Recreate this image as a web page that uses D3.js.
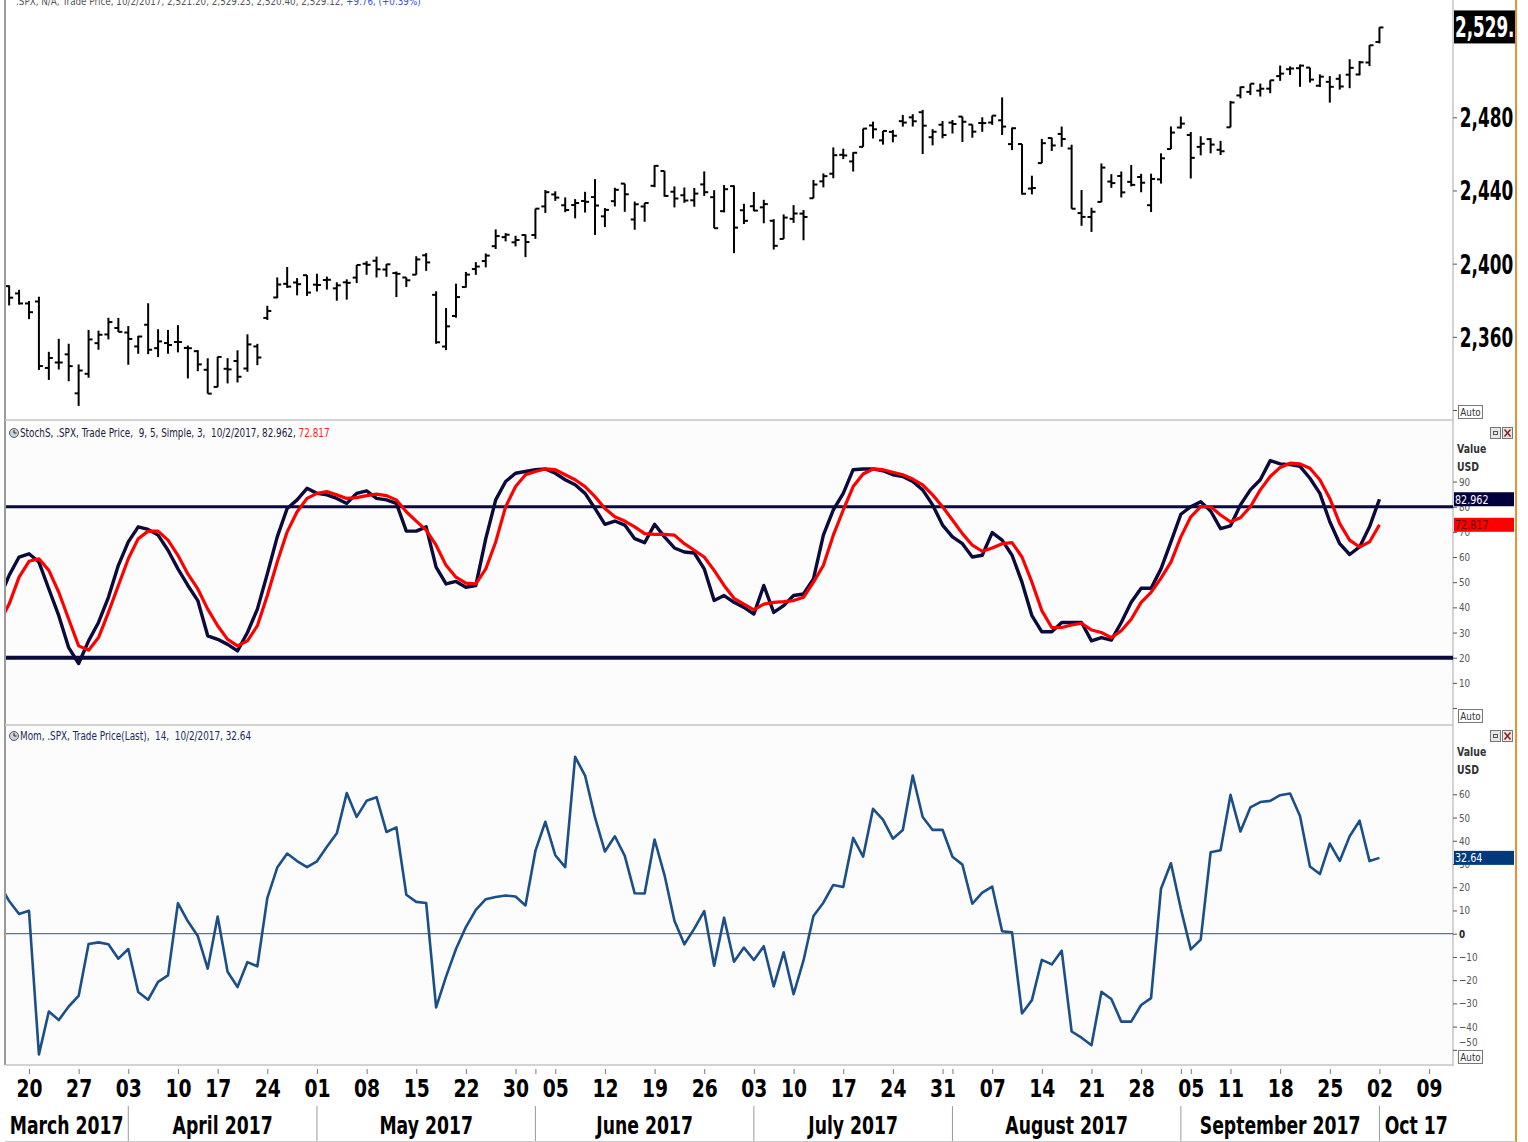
<!DOCTYPE html>
<html>
<head>
<meta charset="utf-8">
<script src="https://cdn.jsdelivr.net/npm/d3@7"></script>
<style>
  body { margin: 0; background: #fff; }
  svg { display: block; }
  text { font-family: "DejaVu Sans", sans-serif; white-space: pre; }
</style>
</head>
<body>
<div class="chart"></div>
<script>
// Trading days (2017), the last five are empty slots to the right of the data
const days = ("03-15 03-16 03-17 03-20 03-21 03-22 03-23 03-24 03-27 03-28 03-29 03-30 03-31 " +
  "04-03 04-04 04-05 04-06 04-07 04-10 04-11 04-12 04-13 04-17 04-18 04-19 04-20 04-21 04-24 04-25 04-26 04-27 04-28 " +
  "05-01 05-02 05-03 05-04 05-05 05-08 05-09 05-10 05-11 05-12 05-15 05-16 05-17 05-18 05-19 05-22 05-23 05-24 05-25 05-26 05-30 05-31 " +
  "06-01 06-02 06-05 06-06 06-07 06-08 06-09 06-12 06-13 06-14 06-15 06-16 06-19 06-20 06-21 06-22 06-23 06-26 06-27 06-28 06-29 06-30 " +
  "07-03 07-05 07-06 07-07 07-10 07-11 07-12 07-13 07-14 07-17 07-18 07-19 07-20 07-21 07-24 07-25 07-26 07-27 07-28 07-31 " +
  "08-01 08-02 08-03 08-04 08-07 08-08 08-09 08-10 08-11 08-14 08-15 08-16 08-17 08-18 08-21 08-22 08-23 08-24 08-25 08-28 08-29 08-30 08-31 " +
  "09-01 09-05 09-06 09-07 09-08 09-11 09-12 09-13 09-14 09-15 09-18 09-19 09-20 09-21 09-22 09-25 09-26 09-27 09-28 09-29 " +
  "10-02 10-03 10-04 10-05 10-06 10-09").split(" ");

// .SPX daily prices
const open = [2370.34, 2387.71, 2383.71, 2378.24, 2379.32, 2343.00, 2345.97, 2350.42, 2329.11, 2339.79, 2356.54, 2361.31, 2364.82,
  2362.34, 2354.76, 2366.59, 2353.79, 2356.59, 2357.16, 2353.92, 2352.15, 2341.98, 2332.62, 2342.53, 2346.79, 2342.69, 2354.74, 2370.33, 2381.51, 2388.98, 2389.70, 2393.68,
  2388.50, 2391.05, 2386.50, 2389.79, 2392.37, 2399.94, 2401.58, 2396.79, 2394.84, 2392.44, 2393.98, 2404.55, 2382.95, 2354.69, 2371.37, 2387.21, 2397.04, 2401.41, 2409.54, 2414.50, 2411.67, 2415.63,
  2415.65, 2431.28, 2437.83, 2431.92, 2432.03, 2434.27, 2436.39, 2425.88, 2434.15, 2443.75, 2424.14, 2431.24, 2442.55, 2450.66, 2439.31, 2437.40, 2434.65, 2443.32, 2436.34, 2428.70, 2442.38, 2429.20,
  2431.39, 2430.78, 2423.44, 2413.52, 2424.51, 2427.35, 2435.75, 2444.99, 2449.16, 2459.50, 2455.88, 2463.85, 2475.56, 2467.40, 2472.04, 2477.88, 2479.97, 2482.76, 2469.12, 2475.94,
  2477.10, 2480.38, 2476.03, 2476.88, 2477.14, 2478.35, 2465.35, 2465.38, 2441.04, 2454.96, 2468.66, 2470.91, 2462.95, 2427.64, 2425.50, 2433.75, 2444.88, 2447.91, 2444.72, 2447.35, 2431.94, 2446.06, 2462.65,
  2474.42, 2470.35, 2463.83, 2468.06, 2462.25, 2474.52, 2491.94, 2493.89, 2494.56, 2495.67, 2502.51, 2506.29, 2506.84, 2507.16, 2497.26, 2499.39, 2501.04, 2503.30, 2503.41, 2509.96,
  2521.20];
const high = [2390.01, 2388.10, 2385.71, 2379.55, 2381.93, 2351.81, 2358.92, 2356.22, 2344.90, 2363.78, 2363.36, 2370.42, 2370.35,
  2365.87, 2360.53, 2378.36, 2364.16, 2363.76, 2366.37, 2355.22, 2352.72, 2348.26, 2349.14, 2348.35, 2352.63, 2361.37, 2356.18, 2376.98, 2392.48, 2398.16, 2392.10, 2393.68,
  2394.49, 2392.93, 2389.82, 2391.43, 2399.29, 2401.36, 2403.87, 2399.74, 2395.72, 2392.44, 2404.05, 2405.77, 2384.87, 2375.74, 2389.06, 2395.46, 2400.85, 2405.58, 2418.71, 2416.68, 2415.26, 2415.99,
  2430.06, 2440.23, 2439.55, 2436.21, 2435.28, 2439.27, 2446.20, 2430.38, 2441.49, 2443.75, 2433.95, 2433.15, 2453.82, 2450.66, 2442.23, 2441.62, 2441.40, 2450.42, 2440.15, 2442.97, 2442.73, 2432.71,
  2439.17, 2434.90, 2424.28, 2426.92, 2432.00, 2429.30, 2445.76, 2449.32, 2463.54, 2462.82, 2460.92, 2473.83, 2477.62, 2472.54, 2473.10, 2481.24, 2481.69, 2484.04, 2473.53, 2477.96,
  2478.51, 2480.38, 2476.03, 2480.00, 2480.95, 2490.87, 2474.41, 2465.38, 2448.09, 2468.22, 2468.90, 2474.93, 2465.02, 2440.27, 2430.58, 2454.77, 2448.91, 2450.39, 2453.96, 2449.12, 2449.19, 2460.31, 2475.01,
  2480.38, 2471.97, 2469.64, 2468.62, 2467.11, 2488.95, 2496.77, 2498.37, 2498.43, 2500.23, 2508.32, 2507.84, 2508.85, 2507.16, 2503.47, 2502.54, 2503.51, 2511.75, 2510.81, 2519.44,
  2529.23];
const low = [2368.94, 2377.18, 2377.64, 2369.66, 2341.90, 2336.45, 2342.13, 2335.74, 2322.25, 2337.63, 2352.94, 2358.58, 2362.60,
  2344.73, 2350.72, 2350.52, 2348.90, 2350.74, 2351.50, 2337.25, 2341.18, 2328.95, 2332.51, 2334.54, 2335.05, 2340.91, 2344.51, 2369.19, 2381.15, 2386.78, 2382.68, 2382.36,
  2384.83, 2385.82, 2379.75, 2380.35, 2389.38, 2393.92, 2392.44, 2392.79, 2381.74, 2387.19, 2393.94, 2396.05, 2356.21, 2352.72, 2370.43, 2386.92, 2393.88, 2397.99, 2408.01, 2412.20, 2409.43, 2403.59,
  2413.54, 2427.71, 2434.32, 2428.12, 2424.75, 2427.94, 2415.70, 2419.97, 2431.28, 2428.34, 2418.53, 2422.88, 2441.79, 2436.60, 2430.74, 2433.27, 2431.11, 2437.03, 2419.38, 2428.02, 2405.70, 2421.65,
  2428.69, 2422.05, 2407.70, 2413.52, 2422.27, 2412.79, 2435.75, 2441.69, 2446.69, 2457.16, 2450.34, 2463.85, 2468.43, 2465.06, 2466.32, 2474.91, 2474.94, 2459.93, 2464.66, 2468.53,
  2471.14, 2466.48, 2468.85, 2472.08, 2475.88, 2470.32, 2462.08, 2437.75, 2437.85, 2454.96, 2461.61, 2463.86, 2430.01, 2420.69, 2417.35, 2433.67, 2441.42, 2436.19, 2442.22, 2439.03, 2428.20, 2443.77, 2462.65,
  2473.85, 2446.55, 2459.20, 2460.29, 2459.40, 2474.52, 2490.37, 2492.14, 2491.35, 2493.16, 2499.92, 2503.19, 2496.67, 2499.00, 2496.54, 2488.03, 2495.12, 2495.91, 2502.93, 2507.99,
  2520.40];
const close = [2385.26, 2381.38, 2378.25, 2373.47, 2344.02, 2348.45, 2345.96, 2343.98, 2341.59, 2358.57, 2361.13, 2368.06, 2362.72,
  2358.84, 2360.16, 2352.95, 2357.49, 2355.54, 2357.16, 2353.78, 2344.93, 2328.95, 2349.01, 2342.19, 2338.17, 2355.84, 2348.69, 2374.15, 2388.61, 2387.45, 2388.77, 2384.20,
  2388.33, 2391.17, 2388.13, 2389.52, 2399.29, 2399.38, 2396.92, 2399.63, 2394.44, 2390.90, 2402.32, 2400.67, 2357.03, 2365.72, 2381.73, 2394.02, 2398.42, 2404.39, 2415.07, 2415.82, 2412.91, 2411.80,
  2430.06, 2439.07, 2436.10, 2429.33, 2433.14, 2433.79, 2431.77, 2429.39, 2440.35, 2437.92, 2432.46, 2433.15, 2453.46, 2437.03, 2435.61, 2434.50, 2438.30, 2439.07, 2419.38, 2440.69, 2419.70, 2423.41,
  2429.01, 2432.54, 2409.75, 2425.18, 2427.43, 2425.53, 2443.25, 2447.83, 2459.27, 2459.14, 2460.61, 2473.83, 2473.45, 2472.54, 2469.91, 2477.13, 2477.83, 2475.42, 2472.10, 2470.30,
  2476.35, 2477.57, 2472.16, 2476.83, 2480.91, 2474.92, 2474.02, 2438.21, 2441.32, 2465.84, 2464.61, 2468.11, 2430.01, 2425.55, 2428.37, 2452.51, 2444.04, 2438.97, 2443.05, 2444.24, 2446.30, 2457.59, 2471.65,
  2476.55, 2457.85, 2465.54, 2465.10, 2461.43, 2488.11, 2496.48, 2498.37, 2495.62, 2500.23, 2503.87, 2506.65, 2508.24, 2500.60, 2502.22, 2496.66, 2496.84, 2507.04, 2510.06, 2519.36,
  2529.12];

// Slow stochastic (9, 5, 3)
const stochK = [43.3, 52.7, 60, 61.3, 58, 47.3, 36.7, 24, 17.7, 26.7, 34, 44, 56.7,
  66, 72, 71, 68.7, 62.7, 55.3, 48.7, 42.7, 28.7, 27.3, 25.3, 22.7, 30, 39.3, 53.3, 68, 79.3, 82.7, 87.3,
  85.3, 84.7, 83.3, 81.3, 85.3, 86.3, 83.3, 82.7, 81.3, 70.3, 70.3, 72, 56, 49.3, 50.3, 48, 48.7, 67.3, 82.7, 90, 93.3, 94,
  94.7, 95, 93.3, 90.7, 88.7, 85.3, 79.3, 73, 74.3, 72.7, 67.3, 65.7, 73, 68, 63.6, 62, 61.6, 55.3, 42.7, 44.7, 42, 40,
  37.3, 48.7, 38, 40.7, 44.7, 45.3, 51.3, 68.7, 78.7, 85.3, 94.7, 95, 95, 94.3, 92.7, 92, 90, 86.7, 80.7, 72.7,
  68, 65.3, 60, 60.7, 69.7, 66.7, 60.7, 50, 36.7, 30.3, 30.3, 34, 34, 34, 26.7, 28, 27, 34, 42, 47.6, 47.6, 55.3, 66,
  77, 80, 82, 78.3, 71.3, 72.4, 80.7, 86.7, 90.7, 98.3, 97, 96.7, 96, 91.3, 85.3, 74, 65.3, 61, 64, 72,
  82.962];
const stochD = [33.8, 41.3, 52, 58.3, 59.3, 54.7, 46, 35.3, 24.7, 23, 28, 38, 48.7,
  59.3, 67.3, 70.3, 70.3, 66.7, 60.7, 53.3, 47.3, 39.3, 32.7, 27.3, 24.7, 26.7, 32.7, 44.7, 58, 70, 78, 83.3,
  85.3, 86, 84.7, 83.3, 83.6, 84.4, 85, 84.4, 82.7, 78, 74.3, 70.7, 64.7, 56.7, 52, 49.6, 49.3, 55.3, 66, 80, 88, 92.7,
  94, 95, 94.7, 92.7, 90.7, 88, 84, 79.3, 76, 74.3, 72, 69.3, 69, 69, 68.7, 65.3, 62.7, 60, 54.7, 48.7, 43.6, 41.3,
  39, 41.3, 42, 42.3, 42.7, 44, 50, 56.7, 68.7, 78.7, 88, 93, 95, 94.7, 93.7, 92.7, 91, 88.7, 84.7, 80,
  74.7, 69.3, 64.7, 62.3, 63.6, 65.3, 65.7, 60, 50, 38.7, 32, 32, 33, 33.7, 31, 30, 28, 30.7, 35.3, 42, 46, 51.6, 58,
  68, 76, 80, 80, 76.7, 74, 75.6, 80, 86.7, 92, 95.6, 97.3, 97, 95.3, 90.7, 83.3, 73.3, 66.7, 64, 66,
  72.817];

// Momentum (14)
const momentum = [21.45, 14.04, 8.50, 9.83, -51.94, -33.47, -37.16, -31.33, -26.80, -4.41, -3.74, -4.54, -10.75,
  -6.61, -25.10, -28.43, -20.76, -17.93, 13.14, 5.33, -1.03, -15.03, 7.42, -16.38, -22.96, -12.22, -14.03, 15.31, 28.45, 34.50, 31.28, 28.66,
  31.17, 37.39, 43.20, 60.57, 50.28, 57.19, 58.75, 43.79, 45.75, 16.75, 13.71, 13.22, -31.74, -18.48, -6.60, 2.85, 10.29, 14.87, 15.78, 16.44, 15.99, 12.17,
  35.62, 48.17, 33.78, 28.66, 76.11, 68.07, 50.04, 35.37, 41.93, 33.53, 17.39, 17.33, 40.55, 25.23, 5.55, -4.57, 2.20, 9.74, -13.76, 6.90, -12.07, -5.98,
  -11.34, -5.38, -22.71, -7.97, -26.03, -11.50, 7.64, 13.33, 20.97, 20.07, 41.23, 33.14, 53.75, 49.13, 40.90, 44.59, 68.08, 50.24, 44.67, 44.77,
  33.10, 29.74, 12.89, 17.69, 20.30, 1.09, 0.57, -34.33, -28.59, -11.29, -13.22, -7.31, -42.09, -44.75, -47.98, -25.06, -28.12, -37.86, -37.86, -30.68, -27.72, 19.38, 30.33,
  10.71, -6.76, -2.57, 35.09, 35.88, 59.74, 43.97, 54.33, 56.65, 57.18, 59.63, 60.35, 50.65, 28.95, 25.67, 38.81, 31.30, 41.94, 48.63, 31.25,
  32.64];

// Tick labels
const priceTicks = [2320, 2360, 2400, 2440, 2480];
const stochTicks = [0, 10, 20, 30, 40, 50, 60, 70, 80, 90];
const momTicks = [-50, -40, -30, -20, -10, 0, 10, 20, 30, 40, 50, 60];
const weekTicks = ["03-20", "03-27", "04-03", "04-10", "04-17", "04-24", "05-01", "05-08", "05-15", "05-22", "05-30",
  "06-05", "06-12", "06-19", "06-26", "07-03", "07-10", "07-17", "07-24", "07-31", "08-07", "08-14", "08-21", "08-28",
  "09-05", "09-11", "09-18", "09-25", "10-02", "10-09"];
const monthStarts = ["04-03", "05-01", "06-01", "07-03", "08-01", "09-01", "10-02"];
const monthNames = ["March 2017", "April 2017", "May 2017", "June 2017", "July 2017", "August 2017", "September 2017", "Oct 17"];

// Layout
const W = 1528, H = 1142;
const left = 5, right = 1453;
const panels = { price: [0, 420], stoch: [420, 725], mom: [725, 1065] };

const svg = d3.select(".chart").append("svg")
  .attr("width", W)
  .attr("height", H);

svg.append("rect").attr("width", W).attr("height", H).attr("fill", "#fff");

// condensed text: the original uses a narrow face, so squeeze DejaVu horizontally
function ntext(parent, x, y, sx) {
  return parent.append("text").attr("transform", `translate(${x},${y}) scale(${sx},1)`);
}

// Scales
const x = d3.scalePoint().domain(days).range([-0.8, 1429.1]);
const yPrice = d3.scaleLinear().domain([2320, 2480]).range([410, 117.3]);
const yStoch = d3.scaleLinear().domain([20, 80]).range([657.7, 506.7]);
const yMom = d3.scaleLinear().domain([0, 60]).range([933.7, 794.3]);

// Panel backgrounds and clip paths
Object.entries(panels).forEach(([name, [y0, y1]]) => {
  svg.append("rect")
    .attr("x", left).attr("y", y0)
    .attr("width", right - left).attr("height", y1 - y0)
    .attr("fill", name === "price" ? "#fff" : "#fcfcfc");
  svg.append("clipPath").attr("id", "clip-" + name)
    .append("rect")
    .attr("x", left + 1).attr("y", y0)
    .attr("width", right - left - 1).attr("height", y1 - y0);
});

// Panel borders
svg.append("line").attr("x1", left).attr("x2", left).attr("y1", 0).attr("y2", 1065)
  .attr("stroke", "#9a9a9a").attr("stroke-width", 2);
svg.append("line").attr("x1", right).attr("x2", right).attr("y1", 0).attr("y2", 1066)
  .attr("stroke", "#a8a8a8").attr("stroke-width", 1);
[420, 725, 1065].forEach(yy => {
  svg.append("line").attr("x1", left).attr("x2", right).attr("y1", yy).attr("y2", yy)
    .attr("stroke", "#c4c4c4").attr("stroke-width", 1.5);
});
svg.append("line").attr("x1", 1516).attr("x2", 1516).attr("y1", 0).attr("y2", H)
  .attr("stroke", "#e8912f").attr("stroke-width", 2);

// ---------- Price panel (OHLC bars) ----------
const bars = close.map((c, i) => ({ d: days[i], o: open[i], h: high[i], l: low[i], c }));
const gPrice = svg.append("g").attr("clip-path", "url(#clip-price)");

const bar = gPrice.selectAll(".bar").data(bars).enter().append("g").attr("class", "bar");
bar.append("line")
  .attr("x1", d => x(d.d)).attr("x2", d => x(d.d))
  .attr("y1", d => yPrice(d.h)).attr("y2", d => yPrice(d.l))
  .attr("stroke", "#000").attr("stroke-width", 2);
bar.append("line")
  .attr("x1", d => x(d.d) - 4).attr("x2", d => x(d.d))
  .attr("y1", d => yPrice(d.o)).attr("y2", d => yPrice(d.o))
  .attr("stroke", "#000").attr("stroke-width", 2);
bar.append("line")
  .attr("x1", d => x(d.d)).attr("x2", d => x(d.d) + 4)
  .attr("y1", d => yPrice(d.c)).attr("y2", d => yPrice(d.c))
  .attr("stroke", "#000").attr("stroke-width", 2);

// Clipped header of the price panel
const topHead = ntext(svg, 16, 5, 0.8).attr("font-size", 11).attr("fill", "#555");
topHead.append("tspan").text(".SPX, N/A, Trade Price, 10/2/2017, 2,521.20, 2,529.23, 2,520.40, 2,529.12, ");
topHead.append("tspan").attr("fill", "#3b4fd8").text("+9.76, (+0.39%)");

// Price axis
const priceAxis = svg.append("g")
  .attr("transform", `translate(${right},0)`)
  .call(d3.axisRight(yPrice).tickValues(priceTicks).tickSize(4)
    .tickFormat(d => d === 2320 ? "" : d3.format(",")(d)));
priceAxis.select(".domain").remove();
priceAxis.selectAll("line").attr("stroke", "#555");
priceAxis.selectAll("text")
  .attr("x", 10.5).attr("dy", "0.36em")
  .attr("transform", "scale(0.65,1)")
  .attr("font-size", 26).attr("font-weight", "bold").attr("fill", "#000");

// Last price tag
const lastPrice = close[close.length - 1];
svg.append("rect")
  .attr("x", right + 1).attr("y", yPrice(lastPrice) - 17)
  .attr("width", 1515 - right - 1).attr("height", 33)
  .attr("fill", "#000");
svg.append("clipPath").attr("id", "clip-tag")
  .append("rect").attr("x", right + 1).attr("y", 0).attr("width", 1515 - right - 1).attr("height", 60);
const tagG = svg.append("g").attr("clip-path", "url(#clip-tag)");
ntext(tagG, right + 2, yPrice(lastPrice) + 10, 0.6)
  .attr("font-size", 28).attr("font-weight", "bold").attr("fill", "#fff")
  .text(d3.format(",.2f")(lastPrice));

// ---------- helpers for the indicator panels ----------
function autoBox(yTop) {
  svg.append("rect").attr("x", 1458.5).attr("y", yTop + 0.5).attr("width", 24).attr("height", 13)
    .attr("fill", "#fff").attr("stroke", "#777");
  ntext(svg, 1470.5, yTop + 11, 0.8).attr("text-anchor", "middle")
    .attr("font-size", 11).attr("fill", "#333").text("Auto");
}
autoBox(405);

function panelIcons(yTop) {
  svg.append("rect").attr("x", 1490.5).attr("y", yTop + 0.5).attr("width", 10).attr("height", 11)
    .attr("fill", "#e6e6e6").attr("stroke", "#777");
  svg.append("rect").attr("x", 1493.5).attr("y", yTop + 4.5).attr("width", 4).attr("height", 3)
    .attr("fill", "none").attr("stroke", "#555");
  svg.append("rect").attr("x", 1502.5).attr("y", yTop + 0.5).attr("width", 10).attr("height", 11)
    .attr("fill", "#e6e6e6").attr("stroke", "#777");
  svg.append("path").attr("d", `M1504.5,${yTop + 2.5}L1510.5,${yTop + 9.5}M1510.5,${yTop + 2.5}L1504.5,${yTop + 9.5}`)
    .attr("stroke", "#8b1d1d").attr("stroke-width", 1.5);
}

function unitLabels(yTop) {
  ntext(svg, 1457, yTop + 11, 0.78).attr("font-size", 12)
    .attr("font-weight", "bold").attr("fill", "#333").text("Value");
  ntext(svg, 1457, yTop + 29, 0.78).attr("font-size", 12)
    .attr("font-weight", "bold").attr("fill", "#333").text("USD");
}

function headerIcon(xc, yc) {
  svg.append("circle").attr("cx", xc).attr("cy", yc).attr("r", 4.5)
    .attr("fill", "#c9d3de").attr("stroke", "#555").attr("stroke-width", 1);
  svg.append("path").attr("d", `M${xc},${yc - 3}V${yc}H${xc + 2.5}`)
    .attr("fill", "none").attr("stroke", "#222").attr("stroke-width", 1);
}

function valueTag(yv, text, bg, fg) {
  svg.append("rect").attr("x", right + 1).attr("y", yv - 7).attr("width", 1514 - right - 1).attr("height", 14)
    .attr("fill", bg);
  ntext(svg, right + 2, yv + 4.5, 0.8).attr("font-size", 12)
    .attr("fill", fg).text(text);
}

function styleIndicatorAxis(g) {
  g.select(".domain").remove();
  g.selectAll("line").attr("stroke", "#555");
  g.selectAll("text").attr("x", 7.5).attr("transform", "scale(0.8,1)")
    .attr("font-size", 11).attr("fill", "#555");
}

// ---------- Stochastic panel ----------
headerIcon(14, 433);
const stHead = ntext(svg, 20, 437, 0.77).attr("font-size", 11.5).attr("fill", "#1a1a3a");
stHead.append("tspan").text("StochS, .SPX, Trade Price,  9, 5, Simple, 3,  10/2/2017, 82.962, ");
stHead.append("tspan").attr("fill", "#ff2020").text("72.817");
panelIcons(427);
unitLabels(442);

const stochAxis = svg.append("g")
  .attr("transform", `translate(${right},0)`)
  .call(d3.axisRight(yStoch).tickValues(stochTicks).tickSize(4).tickFormat(d => d === 0 ? "" : d));
styleIndicatorAxis(stochAxis);
autoBox(709);

const gStoch = svg.append("g").attr("clip-path", "url(#clip-stoch)");
[80, 20].forEach(lv => {
  gStoch.append("line")
    .attr("x1", left).attr("x2", right)
    .attr("y1", yStoch(lv)).attr("y2", yStoch(lv))
    .attr("stroke", "#0a0a3c").attr("stroke-width", lv === 20 ? 4 : 3);
});
const lineK = d3.line().x((d, i) => x(days[i])).y(d => yStoch(d));
gStoch.append("path").datum(stochK)
  .attr("d", lineK).attr("fill", "none")
  .attr("stroke", "#0a0a3c").attr("stroke-width", 3.4).attr("stroke-linejoin", "round");
gStoch.append("path").datum(stochD)
  .attr("d", lineK).attr("fill", "none")
  .attr("stroke", "#ff0000").attr("stroke-width", 3.2).attr("stroke-linejoin", "round");

valueTag(yStoch(stochK[stochK.length - 1]), "82.962", "#00003c", "#fff");
valueTag(yStoch(stochD[stochD.length - 1]), "72.817", "#ff0000", "#5a0000");

// ---------- Momentum panel ----------
headerIcon(14, 736);
ntext(svg, 20, 740, 0.77).attr("font-size", 11.5).attr("fill", "#1a2a5a")
  .text("Mom, .SPX, Trade Price(Last),  14,  10/2/2017, 32.64");
panelIcons(730);
unitLabels(745);

const momAxis = svg.append("g")
  .attr("transform", `translate(${right},0)`)
  .call(d3.axisRight(yMom).tickValues(momTicks).tickSize(4));
styleIndicatorAxis(momAxis);
momAxis.selectAll("text")
  .attr("font-weight", d => d === 0 ? "bold" : "normal")
  .attr("fill", d => d === 0 ? "#222" : "#555")
  .attr("dy", d => d === -50 ? "-0.4em" : "0.32em");
autoBox(1050);

const gMom = svg.append("g").attr("clip-path", "url(#clip-mom)");
gMom.append("line")
  .attr("x1", left).attr("x2", right)
  .attr("y1", yMom(0)).attr("y2", yMom(0))
  .attr("stroke", "#1f5a96").attr("stroke-width", 1);
const lineM = d3.line().x((d, i) => x(days[i])).y(d => yMom(d));
gMom.append("path").datum(momentum)
  .attr("d", lineM).attr("fill", "none")
  .attr("stroke", "#1b4f8a").attr("stroke-width", 2.6).attr("stroke-linejoin", "round");

valueTag(yMom(momentum[momentum.length - 1]), "32.64", "#003a7a", "#fff");

// ---------- Date axis ----------
const allTicks = Array.from(new Set(weekTicks.concat(monthStarts)));
const xAxis = svg.append("g")
  .attr("transform", "translate(0,1069)")
  .call(d3.axisBottom(x).tickValues(allTicks).tickSize(5).tickPadding(6)
    .tickFormat(d => weekTicks.includes(d) ? d.slice(3) : ""));
xAxis.select(".domain").remove();
xAxis.selectAll("line").attr("stroke", "#777");
xAxis.selectAll("text")
  .attr("transform", "scale(0.78,1)")
  .attr("font-size", 24).attr("font-weight", "bold").attr("fill", "#000");

// Month row
const bounds = [left].concat(monthStarts.map(d => x(d))).concat([right]);
monthStarts.forEach(d => {
  svg.append("line")
    .attr("x1", x(d)).attr("x2", x(d))
    .attr("y1", 1106).attr("y2", H)
    .attr("stroke", "#9a9a9a").attr("stroke-width", 1);
});
monthNames.forEach((name, i) => {
  ntext(svg, (bounds[i] + bounds[i + 1]) / 2, 1134, 0.69)
    .attr("text-anchor", "middle")
    .attr("font-size", 25).attr("font-weight", "bold").attr("fill", "#000")
    .text(name);
});
svg.append("line").attr("x1", left).attr("x2", 1516).attr("y1", H - 0.5).attr("y2", H - 0.5)
  .attr("stroke", "#ccc");
</script>
</body>
</html>
